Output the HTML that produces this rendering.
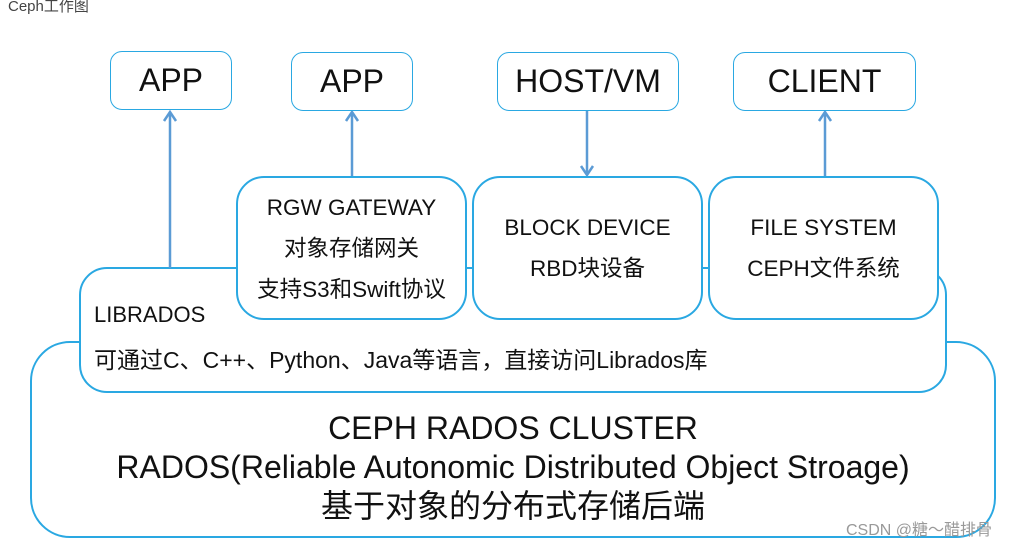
<!DOCTYPE html>
<html><head><meta charset="utf-8"><style>
body{margin:0;width:1032px;height:546px;background:#fff;position:relative;overflow:hidden;font-family:"Liberation Sans","Noto Sans CJK SC",sans-serif;color:#111}
.b{position:absolute;box-sizing:border-box;border:2px solid #2aa8e2;background:#fff}
.t{position:absolute;white-space:nowrap}
.c{text-align:center;display:flex;flex-direction:column;justify-content:center;align-items:center}
</style></head><body>
<div class="t" style="left:8px;top:-5px;font-size:15px;color:#444">Ceph工作图</div>
<div class="b" style="left:30px;top:341px;width:966px;height:197px;border-radius:40px"></div>
<div class="b" style="left:79px;top:267px;width:868px;height:126px;border-radius:28px"></div>
<svg style="position:absolute;left:0;top:0" width="1032" height="546">
<g stroke="#5b9bd5" stroke-width="2.5" fill="none">
<line x1="170" y1="268" x2="170" y2="113"/><polyline points="164,121 170,112 176,121"/>
<line x1="352" y1="177" x2="352" y2="113"/><polyline points="346,121 352,112 358,121"/>
<line x1="587" y1="111" x2="587" y2="174"/><polyline points="581,166 587,175 593,166"/>
<line x1="825" y1="177" x2="825" y2="113"/><polyline points="819,121 825,112 831,121"/>
</g></svg>
<div class="b c" style="left:110px;top:51px;width:122px;height:59px;border-radius:12px;border-width:1px;font-size:32px">APP</div>
<div class="b c" style="left:291px;top:52px;width:122px;height:59px;border-radius:12px;border-width:1px;font-size:32px">APP</div>
<div class="b c" style="left:497px;top:52px;width:182px;height:59px;border-radius:12px;border-width:1px;font-size:32px">HOST/VM</div>
<div class="b c" style="left:733px;top:52px;width:183px;height:59px;border-radius:12px;border-width:1px;font-size:32px">CLIENT</div>
<div class="b c" style="left:236px;top:176px;width:231px;height:144px;border-radius:28px;font-size:22.5px;line-height:41px">RGW GATEWAY<br>对象存储网关<br>支持S3和Swift协议</div>
<div class="b c" style="left:472px;top:176px;width:231px;height:144px;border-radius:28px;font-size:22.5px;line-height:41px">BLOCK DEVICE<br>RBD块设备</div>
<div class="b c" style="left:708px;top:176px;width:231px;height:144px;border-radius:28px;font-size:22.5px;line-height:41px">FILE SYSTEM<br>CEPH文件系统</div>
<div class="t" style="left:94px;top:302px;font-size:22px">LIBRADOS</div>
<div class="t" style="left:94px;top:341px;font-size:23px">可通过C、C++、Python、Java等语言，直接访问Librados库</div>
<div class="t c" style="left:30px;width:966px;top:409px;font-size:32px;line-height:39px">CEPH RADOS CLUSTER<br>RADOS(Reliable Autonomic Distributed Object Stroage)<br>基于对象的分布式存储后端</div>
<div class="t" style="left:846px;top:516px;font-size:16px;color:#999">CSDN @糖～醋排骨</div>
</body></html>
